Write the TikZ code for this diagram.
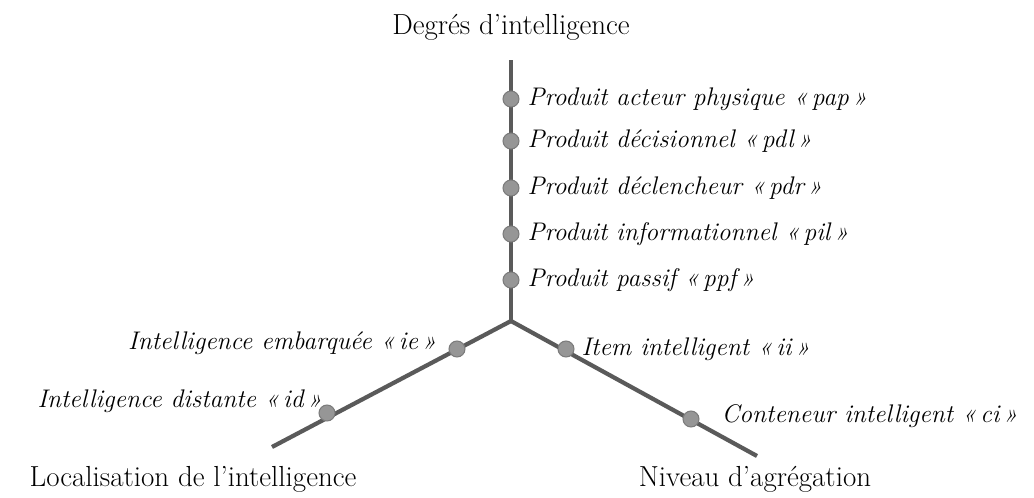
\documentclass[tikz,border=0pt]{standalone}
\usepackage{fontspec}
\usepackage{tikz}
\usepackage{xcolor}
\usetikzlibrary{positioning}

\definecolor{axegris}{RGB}{90,90,90}
\definecolor{pointgris}{RGB}{150,150,150}

\begin{document}
\begin{tikzpicture}[x=0.02cm, y=-0.02cm,
      axe/.style = {draw=axegris, line width=2.4pt},
      point/.style = {circle, draw=axegris!80, line width=0.6pt,
        fill=pointgris, inner sep=0pt, minimum size=0.32cm},
      etiq/.style = {font=\fontsize{14.5}{17}\selectfont\itshape, inner sep=1pt},
      titre/.style = {font=\fontsize{16.5}{20}\selectfont}]
  \useasboundingbox (0,0) rectangle (1034,497);
  % les trois axes
  \coordinate (o) at (511,321);
  \coordinate (haut) at (511,60);
  \coordinate (gauche) at (272,447);
  \coordinate (droite) at (757,456);
  \draw[axe] (haut) -- (o);
  \draw[axe] (o) -- (gauche);
  \draw[axe] (o) -- (droite);
  \node[titre] (degres) at (511,27) {Degrés d’intelligence};
  \node[titre] (localisation) at (193,479) {Localisation de l’intelligence};
  \node[titre] (niveau) at (755,479) {Niveau d’agrégation};
  % degres d'intelligence
  \node[point] (pap) at (511,99) {};
  \node[point] (pdl) at (511,141) {};
  \node[point] (pdr) at (511,188) {};
  \node[point] (pil) at (511,234) {};
  \node[point] (ppf) at (511,280) {};
  \node[etiq, right=0.12cm of pap] {Produit acteur physique «\,pap\,»};
  \node[etiq, right=0.12cm of pdl] {Produit décisionnel «\,pdl\,»};
  \node[etiq, right=0.12cm of pdr] {Produit déclencheur «\,pdr\,»};
  \node[etiq, right=0.12cm of pil] {Produit informationnel «\,pil\,»};
  \node[etiq, right=0.12cm of ppf] {Produit passif «\,ppf\,»};
  % localisation
  \node[point] (ie) at (457,349) {};
  \node[point] (id) at (327,413) {};
  \node[etiq, left=0.2cm of ie, yshift=0.12cm] {Intelligence embarquée «\,ie\,»};
  \node[etiq, anchor=east] at (324,401) {Intelligence distante «\,id\,»};
  % niveau d'agregation
  \node[point] (ii) at (566,349) {};
  \node[point] (ci) at (691,419) {};
  \node[etiq, right=0.1cm of ii] {Item intelligent «\,ii\,»};
  \node[etiq, right=0.4cm of ci, yshift=0.06cm] {Conteneur intelligent «\,ci\,»};
\end{tikzpicture}
\end{document}
